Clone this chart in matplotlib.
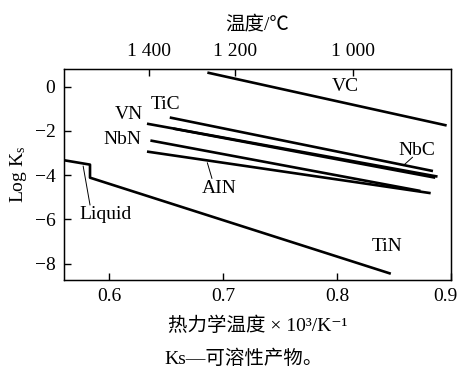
import matplotlib
matplotlib.use("Agg")
import matplotlib.pyplot as plt
from matplotlib.transforms import ScaledTranslation

plt.rcParams['font.family'] = ['Liberation Serif', 'Noto Sans CJK SC', 'DejaVu Serif']
plt.rcParams['mathtext.fontset'] = 'custom'
plt.rcParams['mathtext.rm'] = 'Liberation Serif'
plt.rcParams['mathtext.it'] = 'Liberation Serif:italic'

# straight lines: start / end points
names = ['VC', 'TiC', 'VN', 'NbC', 'NbN', 'AlN']
x_start = [0.686, 0.653, 0.633, 0.656, 0.636, 0.633]
x_end = [0.896, 0.884, 0.888, 0.886, 0.873, 0.882]
y_start = [0.63, -1.40, -1.68, -1.90, -2.44, -2.94]
y_end = [-1.76, -3.82, -4.07, -4.12, -4.72, -4.82]

# TiN with the liquid step
tin_x = [0.56, 0.583, 0.583, 0.847]
tin_y = [-3.33, -3.53, -4.12, -8.46]

# top axis (temperature, deg C)
temp_labels = ['1 400', '1 200', '1 000']
temp_pos = [0.635, 0.7105, 0.814]

xticks = [0.6, 0.7, 0.8, 0.9]
yticks = [0, -2, -4, -6, -8]

fig = plt.figure(figsize=(4.59, 3.74), dpi=100)
ax = fig.add_axes([0.139, 0.251, 0.844, 0.565])

for i in range(len(names)):
    ax.plot([x_start[i], x_end[i]], [y_start[i], y_end[i]], color='black', lw=1.9,
            solid_capstyle='butt')
ax.plot(tin_x, tin_y, color='black', lw=1.9, solid_capstyle='butt')

fs = 14
# labels
ax.text(0.807, 0.0, 'VC', fontsize=fs, ha='center', va='center')
ax.text(0.649, -0.8, 'TiC', fontsize=fs, ha='center', va='center')
ax.text(0.617, -1.27, 'VN', fontsize=fs, ha='center', va='center')
ax.text(0.611, -2.4, 'NbN', fontsize=fs, ha='center', va='center')
ax.text(0.870, -2.9, 'NbC', fontsize=fs, ha='center', va='center')
ax.text(0.844, -7.25, 'TiN', fontsize=fs, ha='center', va='center')
ax.text(0.696, -4.6, 'AIN', fontsize=fs, ha='center', va='center')
ax.text(0.5965, -5.8, 'Liquid', fontsize=fs, ha='center', va='center')

# leader lines
ax.plot([0.577, 0.583], [-3.6, -5.35], color='black', lw=0.7)
ax.plot([0.686, 0.690], [-3.45, -4.15], color='black', lw=0.7)
ax.plot([0.866, 0.858], [-3.2, -3.57], color='black', lw=0.7)

ax.set_xlim(0.56, 0.9)
ax.set_ylim(-8.75, 0.8)
ax.set_xticks(xticks)
ax.set_xticklabels([str(v) for v in xticks])
ax.set_yticks(yticks)
ax.set_yticklabels(['0', '\u22122', '\u22124', '\u22126', '\u22128'])
ax.tick_params(direction='in', length=5, width=1, labelsize=fs, pad=6)
for s in ax.spines.values():
    s.set_linewidth(1.0)
# keep the last tick label inside the figure
last = ax.get_xticklabels()[-1]
last.set_transform(last.get_transform() + ScaledTranslation(-6 / 100, 0, fig.dpi_scale_trans))
ax.set_xlabel('热力学温度 × 10³/K⁻¹', fontsize=fs, labelpad=8)
ax.set_ylabel(r'Log K$_\mathrm{s}$', fontsize=fs, labelpad=4)

top = ax.twiny()
top.set_xlim(ax.get_xlim())
top.set_xticks(temp_pos)
top.set_xticklabels(temp_labels)
top.tick_params(direction='in', length=5, width=1, labelsize=fs, pad=6)
top.set_xlabel('温度/℃', fontsize=fs, labelpad=10)

fig.text(0.53, 0.04, 'Ks—可溶性产物。', fontsize=fs, ha='center', va='center')

fig.savefig('out.png', dpi=100)
